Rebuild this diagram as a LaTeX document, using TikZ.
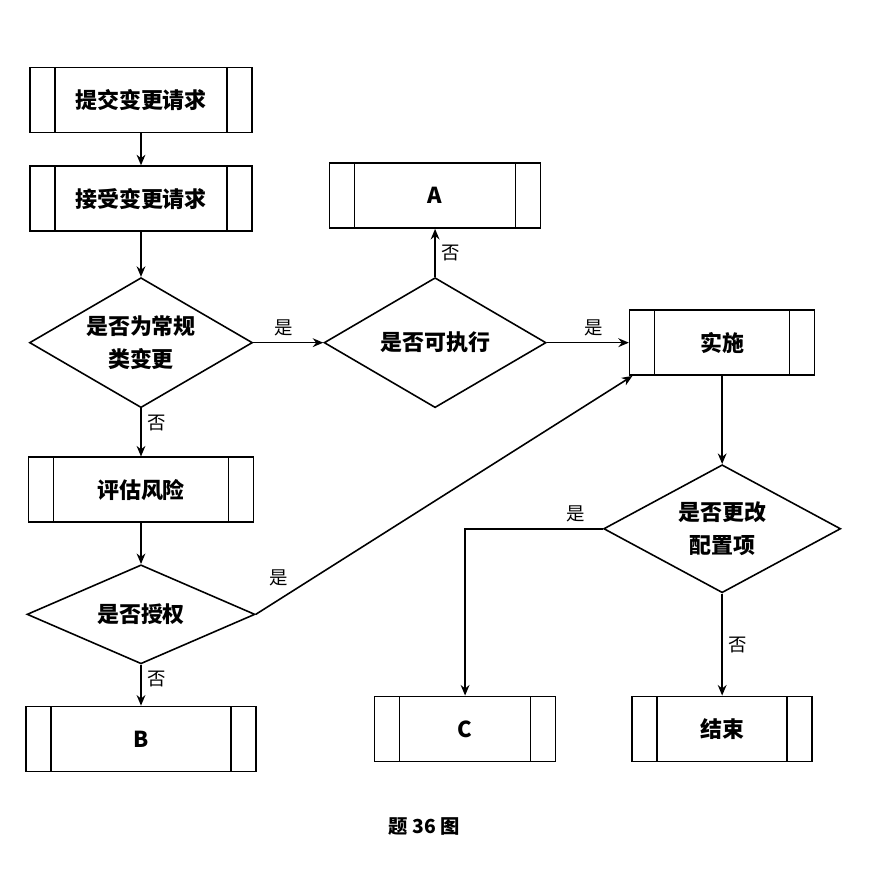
\documentclass[tikz,border=0pt]{standalone}
\usepackage{fontspec}
\setmainfont{Noto Sans CJK SC}
\usepackage{tikz}
\usetikzlibrary{shapes.geometric, positioning, arrows.meta}

\begin{document}
\begin{tikzpicture}[
    > = {Stealth[length=6pt,width=5pt]}, line width=0.9pt, auto,
    proc/.style={rectangle, draw, minimum width=#1, minimum height=1.3cm,
        font=\fontsize{12.5}{15}\selectfont\bfseries,
        path picture={\draw ([xshift=0.5cm]path picture bounding box.north west) -- ([xshift=0.5cm]path picture bounding box.south west)
            ([xshift=-0.5cm]path picture bounding box.north east) -- ([xshift=-0.5cm]path picture bounding box.south east);}},
    dec/.style={diamond, draw, aspect=1.8, inner sep=1pt, align=center,
        font=\fontsize{12.5}{19}\selectfont\bfseries},
    lbl/.style={font=\fontsize{10.5}{12}\selectfont}
]
    \useasboundingbox (0,0) rectangle (17.66,-17.48);

    \node[proc=4.44cm] (submit) at (2.82,-2.0) {提交变更请求};
    \node[proc=4.44cm, below=0.64cm of submit] (accept) {接受变更请求};
    \node[dec, minimum width=4.46cm, minimum height=2.6cm, below=0.9cm of accept] (routine) {是否为常规\\类变更};
    \node[proc=4.5cm, below=0.96cm of routine] (risk) {评估风险};
    \node[dec, minimum width=4.56cm, minimum height=1.98cm, aspect=2.3, below=0.82cm of risk] (auth) {是否授权};
    \node[proc=4.6cm, below=0.82cm of auth] (B) {B};

    \node[dec, minimum width=4.44cm, minimum height=2.6cm, right=1.4cm of routine] (exec) {是否可执行};
    \node[proc=4.22cm, above=0.96cm of exec] (A) {A};
    \node[proc=3.7cm, right=1.64cm of exec] (impl) {实施};
    \node[dec, minimum width=4.74cm, minimum height=2.56cm, below=1.76cm of impl] (cfg) {是否更改\\配置项};
    \node[proc=3.6cm, below=2.04cm of cfg] (end) {结束};
    \node[proc=3.62cm, left=1.5cm of end] (C) {C};

    \node[font=\fontsize{11}{13}\selectfont\bfseries] (cap) at (8.48,-16.52) {题 36 图};

    \draw[->] (submit) -- (accept);
    \draw[->] (accept) -- (routine);
    \draw[->] (routine) -- node[lbl, pos=0.43] {是} (exec);
    \draw[->] (routine) -- node[lbl, pos=0.3] {否} (risk);
    \draw[->] (exec) -- node[lbl, pos=0.5, swap] {否} (A);
    \draw[->] (exec) -- node[lbl, pos=0.57] {是} (impl);
    \draw[->] (risk) -- (auth);
    \draw[->] (auth.east) -- node[lbl, pos=0.06, above=4pt] {是} ([xshift=2pt]impl.south west);
    \draw[->] (auth) -- node[lbl, pos=0.35] {否} (B);
    \draw[->] (impl) -- (cfg);
    \draw[->] (cfg.west) -| node[lbl, pos=0.1, swap] {是} (C.north);
    \draw[->] (cfg) -- node[lbl, pos=0.5] {否} (end);
\end{tikzpicture}
\end{document}
